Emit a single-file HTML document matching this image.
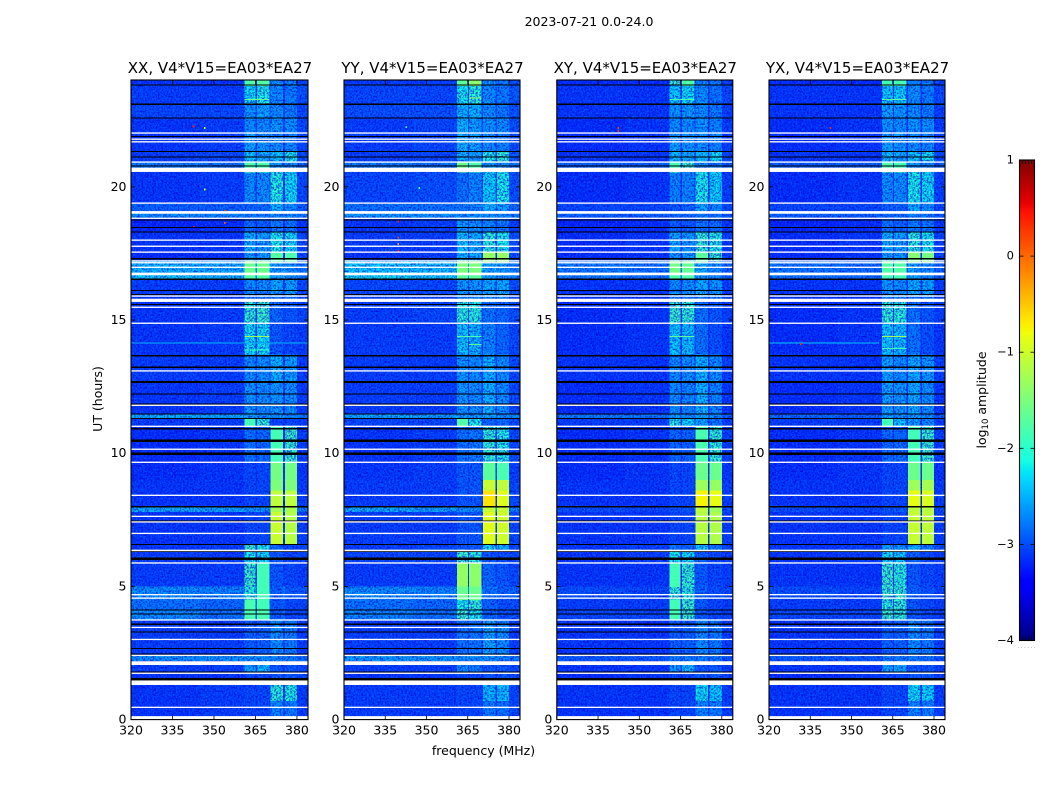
<!DOCTYPE html>
<html>
<head>
<meta charset="utf-8">
<title>2023-07-21 amplitude waterfall</title>
<style>
html,body{margin:0;padding:0;background:#fff;}
svg{display:block;font-family:"DejaVu Sans","Liberation Sans",sans-serif;}
</style>
</head>
<body>
<svg id="figure" xmlns="http://www.w3.org/2000/svg" width="1050" height="800" viewBox="0 0 1050 800">
<defs>
<filter id="noiseDark" x="0" y="0" width="100%" height="100%" color-interpolation-filters="sRGB">
<feTurbulence type="fractalNoise" baseFrequency="0.55" numOctaves="2" seed="4"/>
<feColorMatrix type="matrix" values="0 0 0 0 0  0 0 0 0 0  0 0 0 0 0.82  3.6 0 0 0 -1.5"/>
</filter>
<filter id="noiseLight" x="0" y="0" width="100%" height="100%" color-interpolation-filters="sRGB">
<feTurbulence type="fractalNoise" baseFrequency="0.55" numOctaves="2" seed="11"/>
<feColorMatrix type="matrix" values="0 0 0 0 0  0 0 0 0 0.55  0 0 0 0 1  0 3.6 0 0 -1.7"/>
</filter>
</defs>
<text x="589" y="26" font-size="12.5" text-anchor="middle">2023-07-21 0.0-24.0</text>
<text transform="translate(102,399) rotate(-90)" font-size="12.5" text-anchor="middle">UT (hours)</text>
<text x="483.5" y="755" font-size="12.5" text-anchor="middle">frequency (MHz)</text>
<text transform="translate(986,400) rotate(-90)" font-size="12.5" text-anchor="middle">log<tspan font-size="8.5" dy="2">10</tspan><tspan dy="-2"> amplitude</tspan></text>
</svg>
<script>
// ---- chart data ----
var timeEdges = [24,23.8,23.1,22.6,22.0,21.35,20.95,20.7,20.55,19.4,19.05,18.85,18.3,17.55,17.2,16.75,16.55,15.9,15.7,14.9,13.7,12.7,11.5,11.3,11.0,9.65,9.0,8.6,8.0,7.8,6.6,6.35,5.9,5.0,4.5,4.1,3.75,2.4,2.2,1.8,1.3,0.7,0];
var freqEdges = [320,345,361,365,365.5,370,370.5,375,375.6,380,384];
var freqColumn = [0,1,2,1,3,1,4,1,5,6];
var xTickValues = [320,335,350,365,380];
var yTickValues = [0,5,10,15,20];
var colorTickValues = [1,0,-1,-2,-3,-4];
var panelTitles = ["XX, V4*V15=EA03*EA27","YY, V4*V15=EA03*EA27","XY, V4*V15=EA03*EA27","YX, V4*V15=EA03*EA27"];

var levelsXX = [
[-3.1,-3.1,-1.8,-1.75,-2.6,-2.7,-3.0],[-3.05,-3.05,-2.2,-2.1,-2.6,-2.7,-2.95],[-3.0,-3.0,-2.55,-2.5,-2.6,-2.7,-3.0],[-3.1,-3.05,-2.6,-2.6,-2.55,-2.6,-3.0],
[-3.1,-3.05,-2.5,-2.55,-2.6,-2.65,-3.0],[-3.05,-3.0,-2.3,-2.4,-2.3,-2.1,-2.95],[-2.7,-2.75,-1.8,-1.8,-2.55,-2.6,-2.8],[-2.7,-2.75,-1.8,-1.8,-2.55,-2.6,-2.8],
[-3.1,-3.05,-2.6,-2.6,-2.05,-2.2,-3.0],[-2.85,-2.85,-2.85,-2.8,-2.4,-2.6,-2.9],[-2.6,-2.65,-2.7,-2.7,-2.6,-2.65,-2.75],[-3.2,-3.15,-2.8,-2.85,-2.7,-2.75,-3.1],
[-3.1,-3.1,-2.4,-2.5,-2.1,-2.2,-3.0],[-3.15,-3.1,-2.5,-2.5,-1.75,-1.8,-3.0],[-2.4,-2.45,-1.6,-1.6,-2.55,-2.6,-2.75],[-2.3,-2.4,-1.75,-1.75,-2.5,-2.6,-2.7],
[-3.05,-3.05,-2.6,-2.6,-2.45,-2.5,-3.0],[-3.1,-3.1,-2.7,-2.7,-2.7,-2.7,-3.0],[-3.1,-3.05,-1.95,-1.9,-2.8,-2.9,-3.0],[-3.1,-3.05,-2.2,-2.2,-2.9,-3.0,-3.05],
[-3.05,-3.05,-2.6,-2.6,-2.4,-2.5,-3.05],[-3.1,-3.05,-2.55,-2.6,-2.55,-2.6,-3.05],[-2.45,-2.5,-2.5,-2.6,-2.55,-2.6,-2.7],[-3.05,-3.05,-1.85,-1.95,-3.0,-3.0,-3.05],
[-3.15,-3.1,-2.75,-2.8,-1.85,-1.9,-3.05],[-3.15,-3.1,-3.0,-3.0,-1.55,-1.55,-3.1],[-3.1,-3.1,-3.0,-3.0,-1.5,-1.5,-3.05],[-3.1,-3.1,-3.0,-3.0,-1.1,-1.1,-3.05],[-2.45,-2.5,-2.6,-2.6,-1.25,-1.2,-2.7],
[-3.1,-3.1,-3.0,-3.0,-1.05,-1.15,-3.05],[-3.1,-3.05,-1.9,-2.1,-2.8,-3.0,-3.0],[-3.05,-3.05,-2.1,-2.2,-2.9,-3.0,-3.0],[-3.05,-3.05,-1.9,-1.85,-2.9,-3.0,-3.05],
[-2.6,-2.65,-2.0,-1.85,-2.85,-2.9,-2.9],[-2.75,-2.8,-1.8,-1.85,-2.9,-3.0,-3.0],[-2.6,-2.75,-1.8,-1.8,-2.9,-3.0,-3.0],[-3.05,-3.05,-2.85,-2.85,-2.6,-2.7,-3.05],
[-2.6,-2.6,-2.6,-2.6,-2.65,-2.7,-2.8],[-3.05,-3.05,-2.5,-2.35,-2.9,-2.9,-3.0],[-3.1,-3.1,-3.0,-3.0,-2.9,-2.9,-3.0],[-3.1,-3.05,-3.0,-3.0,-2.0,-2.05,-3.05],[-3.1,-3.05,-3.0,-3.0,-2.65,-2.7,-3.05]
];
var levelsYY = [
[-3.05,-3.05,-1.7,-1.4,-2.6,-2.7,-2.95],[-3.0,-3.0,-2.15,-2.0,-2.6,-2.7,-2.9],[-2.95,-2.95,-2.4,-2.4,-2.6,-2.7,-2.95],[-3.05,-3.0,-2.4,-2.5,-2.55,-2.6,-2.95],
[-3.05,-3.0,-2.4,-2.5,-2.6,-2.65,-2.95],[-3.05,-3.0,-2.4,-2.5,-2.05,-1.95,-2.9],[-2.7,-2.75,-1.6,-1.8,-2.5,-2.6,-2.75],[-2.7,-2.75,-1.6,-1.8,-2.5,-2.6,-2.75],
[-3.0,-2.95,-2.75,-2.65,-2.25,-2.1,-2.95],[-2.75,-2.75,-2.7,-2.65,-2.4,-2.5,-2.8],[-2.55,-2.55,-2.6,-2.6,-2.55,-2.6,-2.7],[-3.1,-3.05,-2.55,-2.6,-2.65,-2.7,-3.05],
[-3.05,-3.05,-2.3,-2.45,-2.0,-2.1,-2.95],[-3.1,-3.05,-2.4,-2.4,-1.35,-1.35,-2.95],[-2.3,-2.35,-1.5,-1.5,-2.5,-2.55,-2.7],[-2.2,-2.3,-1.7,-1.7,-2.45,-2.55,-2.65],
[-3.0,-3.0,-2.55,-2.55,-2.45,-2.45,-2.95],[-3.05,-3.05,-2.6,-2.6,-2.6,-2.6,-2.95],[-3.05,-3.0,-2.0,-2.0,-2.75,-2.8,-2.95],[-3.05,-3.05,-2.3,-2.4,-2.65,-2.8,-3.0],
[-3.05,-3.05,-2.55,-2.6,-2.4,-2.6,-3.0],[-3.05,-3.05,-2.55,-2.6,-2.4,-2.6,-3.0],[-2.45,-2.5,-2.5,-2.55,-2.5,-2.55,-2.65],[-3.0,-3.0,-1.75,-2.05,-2.8,-2.8,-3.0],
[-3.1,-3.05,-2.75,-2.7,-1.95,-2.05,-3.0],[-3.1,-3.05,-2.9,-2.9,-1.7,-1.8,-3.05],[-3.05,-3.05,-2.9,-2.9,-1.05,-1.1,-3.0],[-3.05,-3.05,-2.9,-2.9,-0.65,-0.9,-3.0],[-2.45,-2.5,-2.6,-2.6,-1.05,-1.05,-2.7],
[-3.05,-3.05,-2.9,-2.9,-0.9,-1.0,-3.0],[-3.05,-3.0,-2.9,-2.9,-2.2,-2.4,-3.0],[-3.0,-3.0,-1.9,-2.0,-2.9,-2.95,-3.0],[-3.05,-3.05,-1.35,-1.4,-2.8,-2.9,-3.0],
[-2.6,-2.65,-1.6,-1.6,-2.75,-2.85,-2.85],[-2.75,-2.8,-2.1,-1.95,-2.85,-2.95,-2.95],[-2.65,-2.75,-1.9,-2.1,-2.85,-2.95,-2.95],[-3.05,-3.05,-2.75,-2.75,-2.5,-2.6,-3.05],
[-2.55,-2.55,-2.6,-2.6,-2.6,-2.65,-2.75],[-3.05,-3.05,-2.6,-2.7,-2.9,-2.9,-3.0],[-3.1,-3.1,-3.0,-3.0,-2.9,-2.9,-3.0],[-3.05,-3.05,-3.0,-3.0,-2.4,-2.35,-3.0],[-3.05,-3.05,-3.0,-3.0,-2.7,-2.75,-3.0]
];
var levelsXY = [
[-3.15,-3.15,-1.9,-1.8,-2.65,-2.7,-3.05],[-3.1,-3.1,-2.3,-2.2,-2.6,-2.75,-3.0],[-3.1,-3.1,-2.55,-2.55,-2.6,-2.7,-3.05],[-3.15,-3.1,-2.6,-2.6,-2.55,-2.65,-3.05],
[-3.15,-3.1,-2.5,-2.55,-2.6,-2.65,-3.05],[-3.1,-3.1,-2.35,-2.45,-2.35,-2.2,-3.0],[-2.85,-2.85,-1.85,-1.9,-2.6,-2.7,-2.9],[-2.85,-2.85,-1.85,-1.9,-2.6,-2.7,-2.9],
[-3.15,-3.1,-2.65,-2.65,-2.1,-2.25,-3.05],[-3.0,-3.0,-2.9,-2.85,-2.45,-2.65,-3.0],[-2.85,-2.85,-2.8,-2.8,-2.7,-2.75,-2.9],[-3.2,-3.15,-2.85,-2.9,-2.75,-2.8,-3.1],
[-3.15,-3.1,-2.45,-2.55,-1.95,-2.05,-3.05],[-3.15,-3.1,-2.55,-2.55,-1.7,-1.9,-3.05],[-2.7,-2.75,-1.55,-1.65,-2.4,-2.6,-2.85],[-2.7,-2.75,-1.8,-1.8,-2.5,-2.65,-2.85],
[-3.1,-3.1,-2.6,-2.6,-2.45,-2.55,-3.05],[-3.15,-3.15,-2.7,-2.7,-2.7,-2.7,-3.05],[-3.15,-3.1,-1.9,-1.95,-2.75,-2.9,-3.05],[-3.15,-3.1,-2.3,-2.35,-2.75,-2.95,-3.1],
[-3.1,-3.1,-2.6,-2.6,-2.4,-2.6,-3.05],[-3.15,-3.1,-2.6,-2.65,-2.4,-2.65,-3.1],[-2.7,-2.75,-2.55,-2.6,-2.5,-2.6,-2.85],[-3.05,-3.05,-2.05,-2.25,-2.45,-2.75,-3.05],
[-3.15,-3.1,-2.8,-2.85,-1.8,-1.95,-3.05],[-3.15,-3.1,-3.0,-3.0,-1.6,-1.6,-3.1],[-3.1,-3.1,-3.0,-3.0,-1.3,-1.35,-3.05],[-3.1,-3.1,-3.0,-3.0,-0.75,-0.85,-3.05],[-2.95,-3.0,-2.9,-2.9,-1.1,-1.3,-3.0],
[-3.1,-3.1,-3.0,-3.0,-1.15,-1.2,-3.05],[-3.1,-3.05,-2.7,-2.8,-2.3,-2.7,-3.0],[-3.1,-3.05,-2.1,-2.2,-2.85,-3.0,-3.05],[-3.1,-3.1,-1.85,-1.95,-2.9,-3.0,-3.05],
[-2.95,-3.0,-1.95,-2.0,-2.85,-2.95,-3.0],[-3.05,-3.05,-1.85,-1.9,-2.9,-3.0,-3.05],[-3.0,-3.0,-1.85,-1.9,-2.9,-3.0,-3.05],[-3.1,-3.1,-2.85,-2.85,-2.6,-2.7,-3.05],
[-2.9,-2.9,-2.7,-2.7,-2.7,-2.75,-2.95],[-3.1,-3.1,-2.5,-2.4,-2.9,-2.9,-3.05],[-3.15,-3.1,-3.0,-3.0,-2.9,-2.9,-3.05],[-3.1,-3.1,-3.0,-3.0,-2.2,-2.3,-3.05],[-3.1,-3.1,-3.0,-3.0,-2.65,-2.7,-3.05]
];
var levelsYX = [
[-3.15,-3.15,-1.85,-1.85,-2.65,-2.7,-3.05],[-3.1,-3.1,-2.3,-2.25,-2.6,-2.7,-3.0],[-3.1,-3.1,-2.5,-2.55,-2.6,-2.7,-3.05],[-3.15,-3.1,-2.55,-2.6,-2.55,-2.6,-3.05],
[-3.15,-3.1,-2.5,-2.55,-2.6,-2.65,-3.05],[-3.1,-3.1,-2.35,-2.45,-2.3,-2.15,-3.0],[-2.85,-2.85,-1.8,-1.85,-2.55,-2.65,-2.9],[-2.85,-2.85,-1.8,-1.85,-2.55,-2.65,-2.9],
[-3.15,-3.1,-2.6,-2.6,-2.1,-2.2,-3.05],[-3.0,-3.0,-2.85,-2.85,-2.45,-2.6,-3.0],[-2.85,-2.85,-2.8,-2.75,-2.65,-2.7,-2.9],[-3.2,-3.15,-2.75,-2.85,-2.7,-2.75,-3.1],
[-3.15,-3.1,-2.4,-2.5,-2.0,-2.1,-3.05],[-3.15,-3.1,-2.5,-2.55,-1.45,-1.55,-3.05],[-2.75,-2.8,-1.75,-1.75,-2.5,-2.6,-2.85],[-2.75,-2.8,-1.85,-1.85,-2.5,-2.65,-2.85],
[-3.1,-3.1,-2.55,-2.6,-2.45,-2.5,-3.05],[-3.15,-3.15,-2.65,-2.7,-2.7,-2.7,-3.05],[-3.15,-3.1,-1.95,-2.0,-2.75,-2.9,-3.05],[-3.15,-3.1,-2.3,-2.35,-2.75,-2.95,-3.1],
[-3.1,-3.1,-2.5,-2.6,-2.45,-2.55,-3.05],[-3.15,-3.1,-2.5,-2.55,-2.45,-2.6,-3.1],[-2.8,-2.85,-2.5,-2.55,-2.5,-2.6,-2.9],[-3.05,-3.05,-1.85,-2.3,-2.55,-2.65,-3.05],
[-3.15,-3.1,-2.8,-2.8,-1.85,-1.9,-3.05],[-3.15,-3.1,-3.0,-3.0,-1.6,-1.6,-3.1],[-3.1,-3.1,-3.0,-3.0,-1.3,-1.25,-3.05],[-3.1,-3.1,-3.0,-3.0,-0.85,-0.95,-3.05],[-2.95,-3.0,-2.9,-2.9,-1.1,-1.15,-3.0],
[-3.1,-3.1,-3.0,-3.0,-1.05,-1.1,-3.05],[-3.1,-3.05,-2.5,-2.6,-2.4,-2.7,-3.0],[-3.1,-3.05,-2.2,-2.3,-2.85,-3.0,-3.05],[-3.1,-3.1,-1.9,-2.0,-2.9,-3.0,-3.05],
[-2.95,-3.0,-1.9,-1.95,-2.85,-2.95,-3.0],[-3.05,-3.05,-2.0,-1.95,-2.9,-3.0,-3.05],[-3.0,-3.0,-1.9,-1.95,-2.9,-3.0,-3.05],[-3.1,-3.1,-2.85,-2.85,-2.6,-2.7,-3.05],
[-2.9,-2.9,-2.7,-2.7,-2.7,-2.75,-2.95],[-3.1,-3.1,-2.5,-2.45,-2.9,-2.9,-3.05],[-3.15,-3.1,-3.0,-3.0,-2.9,-2.9,-3.05],[-3.1,-3.1,-3.0,-3.0,-2.2,-2.25,-3.05],[-3.1,-3.1,-3.0,-3.0,-2.65,-2.7,-3.05]
];
// flagged (blank) time ranges [start UT, end UT]
var whiteFlags = [[21.995,22.045],[21.765,21.815],[21.665,21.715],[20.905,20.955],[20.56,20.72],[19.365,19.415],[18.99,19.09],[18.795,18.845],[17.975,18.025],[17.745,17.795],[17.525,17.575],[17.195,17.245],[17.125,17.175],[16.955,17.005],[16.68,16.78],[15.875,15.925],[15.68,15.8],[15.455,15.505],[14.855,14.905],[13.065,13.115],[11.775,11.825],[10.985,11.035],[10.125,10.175],[9.635,9.685],[8.395,8.445],[7.605,7.655],[7.395,7.445],[6.965,7.015],[6.32,6.38],[5.855,5.905],[4.665,4.715],[4.535,4.585],[3.715,3.765],[3.435,3.485],[2.985,3.035],[2.385,2.435],[2.05,2.19],[1.715,1.765],[1.3,1.47],[0.435,0.485],[0,0.13]];
// dropped-data time ranges [start UT, end UT]
var blackFlags = [[23.8,23.84],[23.08,23.12],[22.56,22.6],[21.87,21.91],[21.31,21.35],[21.1,21.14],[20.77,20.81],[18.73,18.77],[18.45,18.49],[18.28,18.32],[17.28,17.32],[16.51,16.55],[16.09,16.13],[15.94,15.98],[15.57,15.61],[13.64,13.68],[13.2,13.26],[12.64,12.72],[12.21,12.25],[11.83,11.87],[11.46,11.5],[11.29,11.33],[10.9,10.94],[10.43,10.51],[9.94,10.02],[7.97,8.01],[7.44,7.48],[6.56,6.6],[6.29,6.35],[6.0,6.08],[4.1,4.14],[3.95,3.99],[3.56,3.6],[3.27,3.31],[2.65,2.69],[2.44,2.48],[1.76,1.8],[1.47,1.56]];
// bright single-channel spikes [panel, MHz, UT, log amplitude]
var spikes = [[0,342.3,22.26,0.4],[0,346.4,22.2,-1],[0,346.4,19.9,-0.9],[0,353.6,19.1,0.2],[0,353.6,18.65,0.1],[0,342.4,18.5,0.3],[1,339.5,18.7,0.4],[1,339.5,18.1,0.2],[1,339.5,17.85,-0.3],[1,339.5,17.6,0.4],[1,339.5,17.2,-0.3],[1,342.4,22.25,-2],[1,347,19.95,-1.9],[2,342,22.2,0.2],[2,342,22.1,0.3],[3,342,22.2,0.3],[3,331.2,14.1,0.3]];
// thin time-localised streaks [panel, start MHz, end MHz, UT, log amplitude]
var streaks = [[0,361,370,14.4,-1.3],[0,320,384,14.15,-2.5],[0,361,370,13.9,-1.9],[1,361,370,14.4,-1.8],[1,365.5,370,14.1,-1.7],[2,361,370,14.4,-1.7],[3,320,360,14.15,-2.4],[3,361,370,14.4,-1.3],[3,361,370,13.95,-1.9],[0,361,370,23.3,-1.6],[1,365.5,370,23.35,-1.4],[2,361,370,23.3,-1.8],[3,361,370,23.3,-1.7]];

// ---- layout (not data) ----
var panelLeft = [131,344,556.8,769];
var panelWidths = [177,176,176,176];
var plotTop = 80.3, plotBottom = 719.6;
var freqMin = 320, freqMax = 384, utMin = 0, utMax = 24;
var colorTop = 160, colorBottom = 640.5, colorLeft = 1019.5, colorRight = 1034.5, colorMin = -4, colorMax = 1;
var brightThreshold = -1.85;
var panelLevels = [levelsXX,levelsYY,levelsXY,levelsYX];

var NS = "http://www.w3.org/2000/svg";
var fig = document.getElementById("figure");
function mk(tag, attrs, parent){
  var e = document.createElementNS(NS, tag);
  for (var k in attrs) e.setAttribute(k, attrs[k]);
  parent.appendChild(e);
  return e;
}
function seg(stops, t){
  for (var i = 1; i < stops.length; i++){
    if (t <= stops[i][0]){
      var a = stops[i-1], b = stops[i];
      return a[1] + (b[1]-a[1])*(t-a[0])/(b[0]-a[0]);
    }
  }
  return stops[stops.length-1][1];
}
var jetR = [[0,0],[0.35,0],[0.66,1],[0.89,1],[1,0.5]];
var jetG = [[0,0],[0.125,0],[0.375,1],[0.64,1],[0.91,0],[1,0]];
var jetB = [[0,0.5],[0.11,1],[0.34,1],[0.65,0],[1,0]];
function colorOf(v){
  var t = Math.max(0, Math.min(1, (v-colorMin)/(colorMax-colorMin)));
  return "rgb("+Math.round(255*seg(jetR,t))+","+Math.round(255*seg(jetG,t))+","+Math.round(255*seg(jetB,t))+")";
}
function yOf(ut){ return plotBottom - (ut-utMin)/(utMax-utMin)*(plotBottom-plotTop); }
function xOf(p, f){ return panelLeft[p] + (f-freqMin)/(freqMax-freqMin)*panelWidths[p]; }
function fmt(v){ return String(v).replace("-", "\u2212"); }

panelTitles.forEach(function(title, p){
  var L = panelLeft[p], W = panelWidths[p], R = L + W;
  var cp = mk("clipPath", {id:"clip"+p}, fig);
  mk("rect", {x:L, y:plotTop, width:W, height:plotBottom-plotTop}, cp);
  var g = mk("g", {}, fig);
  
  

  var cells = mk("g", {"clip-path":"url(#clip"+p+")","shape-rendering":"crispEdges"}, g);
  
  
  var levels = panelLevels[p];
  var pass, r, c;
  for (pass = 0; pass < 2; pass++){
    for (r = 0; r < levels.length; r++){
      for (c = 0; c < freqColumn.length; c++){
        var value = levels[r][freqColumn[c]];
        if ((value >= brightThreshold) !== (pass === 1)) continue;
        var x0 = xOf(p, freqEdges[c]), x1 = xOf(p, freqEdges[c+1]);
        var y0 = yOf(timeEdges[r]), y1 = yOf(timeEdges[r+1]);
        var cell = mk("rect", {x:x0, y:y0, width:x1-x0+(pass?0:0.5), height:y1-y0+0.5, fill:colorOf(value)}, cells);
        
        
      }
    }
    if (pass === 0){
      var noiseA = mk("rect", {x:L, y:plotTop, width:W, height:plotBottom-plotTop, filter:"url(#noiseDark)", opacity:"0.7"}, cells);
      
      
      var noiseB = mk("rect", {x:L, y:plotTop, width:W, height:plotBottom-plotTop, filter:"url(#noiseLight)", opacity:"0.4"}, cells);
      
      
    }
  }

  streaks.forEach(function(s){
    if (s[0] !== p) return;
    var st = mk("rect", {x:xOf(p,s[1]), y:yOf(s[3]), width:xOf(p,s[2])-xOf(p,s[1]), height:1, fill:colorOf(s[4])}, cells);
    
    
  });
  spikes.forEach(function(s){
    if (s[0] !== p) return;
    var sp = mk("rect", {x:xOf(p,s[1]), y:yOf(s[2])-1, width:1.6, height:2, fill:colorOf(s[3])}, cells);
    
    
  });
  blackFlags.forEach(function(f){
    var b = mk("rect", {x:L, y:yOf(f[1]), width:W, height:Math.max(1, yOf(f[0])-yOf(f[1])), fill:"#000"}, cells);
    
    
  });
  var whites = mk("g", {"clip-path":"url(#clip"+p+")"}, g);
  
  
  whiteFlags.forEach(function(f){
    var w = mk("rect", {x:L, y:yOf(f[1]), width:W, height:yOf(f[0])-yOf(f[1]), fill:"#fff"}, whites);
    
    
  });

  var frame = mk("rect", {x:L, y:plotTop-0.3, width:W, height:plotBottom-plotTop+0.3, fill:"none", stroke:"#000", "stroke-width":"1.1"}, g);
  
  

  xTickValues.forEach(function(v){
    var x = xOf(p, v);
    var tb = mk("line", {x1:x, x2:x, y1:plotBottom, y2:plotBottom-4, stroke:"#000", "stroke-width":"0.8"}, g);
    
    
    var tt = mk("line", {x1:x, x2:x, y1:plotTop, y2:plotTop+4, stroke:"#000", "stroke-width":"0.8"}, g);
    
    
    var lb = mk("text", {x:x, y:plotBottom+15, "font-size":"12.5", "text-anchor":"middle"}, g);
    lb.textContent = fmt(v);
    
    
  });
  yTickValues.forEach(function(v){
    var y = yOf(v);
    var tl = mk("line", {x1:L, x2:L+4, y1:y, y2:y, stroke:"#000", "stroke-width":"0.8"}, g);
    
    
    var tr = mk("line", {x1:R, x2:R-4, y1:y, y2:y, stroke:"#000", "stroke-width":"0.8"}, g);
    
    
    var lb = mk("text", {x:L-4.5, y:y+4, "font-size":"12.5", "text-anchor":"end"}, g);
    lb.textContent = fmt(v);
    
    
  });
  var t = mk("text", {x:L+W/2+0.5, y:73, "font-size":"15", "text-anchor":"middle"}, g);
  t.textContent = title;
  
  
});

// ---- colour bar ----
var cb = mk("g", {"shape-rendering":"crispEdges"}, fig);


var colorSteps = 240;
for (var i = 0; i < colorSteps; i++){
  var val = colorMax - (i+0.5)/colorSteps*(colorMax-colorMin);
  var yy = colorTop + i/colorSteps*(colorBottom-colorTop);
  var sw = mk("rect", {x:colorLeft, y:yy, width:colorRight-colorLeft, height:(colorBottom-colorTop)/colorSteps+0.6, fill:colorOf(val)}, cb);
  
  
}
var cbGroup = mk("g", {}, fig);


var cbFrame = mk("rect", {x:colorLeft, y:colorTop, width:colorRight-colorLeft, height:colorBottom-colorTop, fill:"none", stroke:"#000", "stroke-width":"1.1"}, cbGroup);


colorTickValues.forEach(function(v){
  var y = colorTop + (colorMax-v)/(colorMax-colorMin)*(colorBottom-colorTop);
  var a = mk("line", {x1:colorLeft, x2:colorLeft+4, y1:y, y2:y, stroke:"#000", "stroke-width":"0.8"}, cbGroup);
  
  
  var b = mk("line", {x1:colorRight, x2:colorRight-4, y1:y, y2:y, stroke:"#000", "stroke-width":"0.8"}, cbGroup);
  
  
  var lb = mk("text", {x:colorLeft-5.5, y:y+3.5, "font-size":"11.5", "text-anchor":"end"}, cbGroup);
  lb.textContent = fmt(v);
  
  
});
for (var m = 1; m <= 4; m++){
  var mx = colorLeft + m*(colorRight-colorLeft)/5;
  var m1 = mk("line", {x1:mx, x2:mx, y1:colorTop, y2:colorTop+4, stroke:"#000", "stroke-width":"0.8"}, cbGroup);
  
  
  var m2 = mk("line", {x1:mx, x2:mx, y1:colorBottom, y2:colorBottom-4, stroke:"#000", "stroke-width":"0.8"}, cbGroup);
  
  
}
var dots = mk("text", {x:colorLeft-2, y:648, "font-size":"5", fill:"#555", "letter-spacing":"1.7"}, cbGroup);
dots.textContent = "......";


</script>
</body>
</html>
